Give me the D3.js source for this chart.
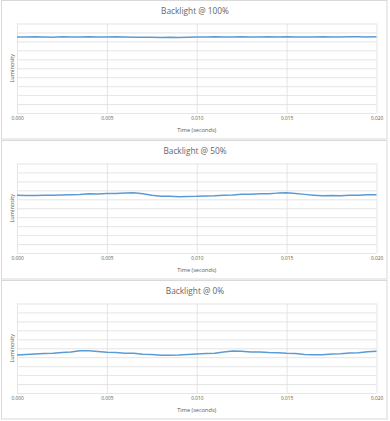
<!DOCTYPE html>
<html>
<head>
<meta charset="utf-8">
<script src="https://cdnjs.cloudflare.com/ajax/libs/d3/7.8.5/d3.min.js"></script>
<style>
  body { margin: 0; background: #fff; }
  text { font-family: "Open Sans", Lato, sans-serif; fill: #595959; }
</style>
</head>
<body>
<div id="chart"></div>
<script>
// time samples every 0.0005 s
var times = d3.range(41).map(i => i * 0.0005);
var xTicks = [0, 0.005, 0.010, 0.015, 0.020];

var titles = ['Backlight @ 100%', 'Backlight @ 50%', 'Backlight @ 0%'];

var lum100 = [8.50,8.48,8.52,8.50,8.47,8.51,8.50,8.48,8.52,8.50,
  8.49,8.52,8.50,8.47,8.46,8.45,8.44,8.46,8.44,8.47,
  8.48,8.50,8.51,8.48,8.50,8.52,8.49,8.50,8.51,8.48,
  8.52,8.50,8.48,8.50,8.52,8.50,8.48,8.51,8.52,8.50,8.51];

var lum50 = [6.45,6.43,6.42,6.45,6.44,6.47,6.50,6.54,6.61,6.60,
  6.65,6.64,6.70,6.73,6.62,6.46,6.35,6.33,6.29,6.32,
  6.33,6.38,6.39,6.45,6.49,6.56,6.57,6.63,6.63,6.69,
  6.72,6.65,6.55,6.46,6.39,6.42,6.41,6.45,6.46,6.51,6.52];

var lum0 = [4.25,4.31,4.35,4.41,4.44,4.53,4.59,4.71,4.72,4.65,
  4.55,4.53,4.45,4.43,4.32,4.29,4.21,4.22,4.24,4.31,
  4.35,4.41,4.44,4.59,4.68,4.67,4.59,4.57,4.52,4.51,
  4.44,4.41,4.31,4.27,4.27,4.35,4.39,4.46,4.51,4.61,4.66];

var series = [lum100, lum50, lum0];

var svgWidth = 390, svgHeight = 421;
var panelTops = [0.5, 140.5, 280.5];
var panelH = 139;

var margin = {t: 23, r: 13.5, b: 26.5, l: 17};
var width = 390 - margin.l - margin.r,
  height = panelH - margin.t - margin.b;

var svg = d3.select('#chart')
  .append('svg')
  .attr('width', svgWidth)
  .attr('height', svgHeight);

var xScale = d3.scaleLinear().domain([0, 0.02]).range([0, width]);
var yScale = d3.scaleLinear().domain([0, 10]).range([height, 0]);

var line = d3.line()
  .x((d, i) => xScale(times[i]))
  .y(d => yScale(d));

series.forEach((vals, k) => {
  var panel = svg.append('g')
    .attr('transform', `translate(0,${panelTops[k]})`);

  // frame
  panel.append('rect')
    .attr('x', 1.5).attr('y', 0)
    .attr('width', 385.5).attr('height', panelH - 0.5)
    .attr('fill', '#fff')
    .attr('stroke', '#d9d9d9')
    .attr('stroke-width', 1);

  panel.append('text')
    .attr('x', 195).attr('y', 13.5)
    .attr('text-anchor', 'middle')
    .style('font-size', '8.3px')
    .attr('fill', '#666')
    .style('fill', '#666')
    .text(titles[k]);

  var g = panel.append('g')
    .attr('transform', `translate(${margin.l},${margin.t})`);

  // horizontal grid
  g.append('g')
    .call(d3.axisLeft(yScale).ticks(10).tickSize(-width).tickFormat(''))
    .call(a => a.select('.domain').remove())
    .call(a => a.selectAll('line').attr('stroke', '#dedede').attr('stroke-width', 0.8));

  // vertical grid + x labels
  g.append('g')
    .attr('transform', `translate(0,${height})`)
    .call(d3.axisBottom(xScale).tickValues(xTicks).tickSize(-height).tickPadding(4).tickFormat(d3.format('.3f')))
    .call(a => a.select('.domain').remove())
    .call(a => a.selectAll('line').attr('stroke', '#dedede').attr('stroke-width', 0.8))
    .call(a => a.selectAll('text').style('font-size', '4.8px').attr('fill', '#6a6a6a')
      .style('font-family', '"Open Sans", Lato, sans-serif'));

  g.append('path')
    .datum(vals)
    .attr('d', line)
    .attr('fill', 'none')
    .attr('stroke', '#5b9bd5')
    .attr('stroke-width', 1.5)
    .attr('stroke-linejoin', 'round');

  g.append('text')
    .attr('x', width / 2)
    .attr('y', height + 19)
    .attr('text-anchor', 'middle')
    .style('font-size', '5.6px')
    .text('Time (seconds)');

  g.append('text')
    .attr('transform', `translate(-3,${height / 2})rotate(-90)`)
    .attr('text-anchor', 'middle')
    .style('font-size', '5.6px')
    .text('Luminosity');
});
</script>
</body>
</html>
